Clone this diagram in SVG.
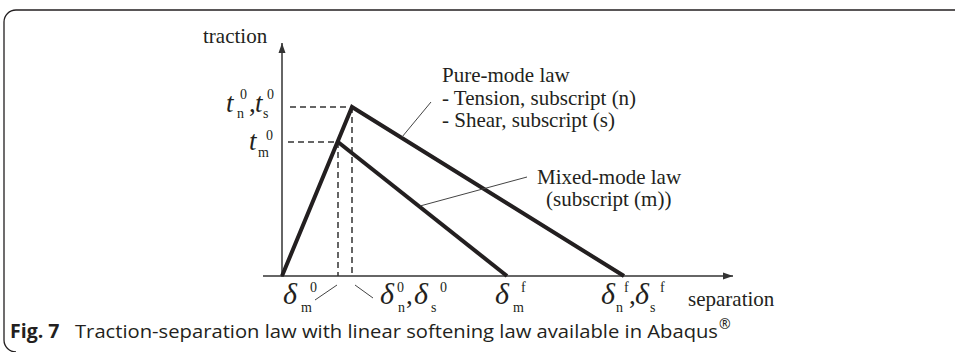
<svg xmlns="http://www.w3.org/2000/svg" width="955" height="352" viewBox="0 0 955 352">
<style>
.ser{font-family:"Liberation Serif","Times New Roman",serif;fill:#231f20}
.lbl{font-size:21px}
.it{font-style:italic}
.big{font-size:27px}
.dl{font-size:30px}
.sm{font-size:14px}
.cap{font-family:"Open Sans","Noto Sans",sans-serif;font-size:18px;fill:#231f20}
.thick{stroke:#231f20;stroke-width:4;fill:none;stroke-linejoin:miter}
.axis{stroke:#333;stroke-width:1.5;fill:none}
.dash{stroke:#333;stroke-width:1.5;fill:none;stroke-dasharray:6 4}
.lead{stroke:#444;stroke-width:1;fill:none}
</style>
<defs>
<marker id="arr" viewBox="0 0 10 10" refX="10" refY="5" markerWidth="10" markerHeight="10" markerUnits="userSpaceOnUse" orient="auto">
<path d="M0,1.5 L10,5 L0,8.5 Z" fill="#333"/>
</marker>
</defs>
<path d="M955,10 H16 A12 12 0 0 0 4 22 V340 A12 12 0 0 0 16 352" fill="none" stroke="#231f20" stroke-width="1.3"/>
<g id="connectors">
<line class="axis" x1="282" y1="277" x2="282" y2="43" marker-end="url(#arr)"/>
<line class="axis" x1="263" y1="276" x2="733" y2="276" marker-end="url(#arr)"/>
<line class="dash" x1="290" y1="107" x2="352" y2="107"/>
<line class="dash" x1="288" y1="142" x2="338" y2="142"/>
<line class="dash" x1="352" y1="107" x2="352" y2="276"/>
<line class="dash" x1="338" y1="142" x2="338" y2="276"/>
<polyline class="thick" points="282,276 352,107 624,276"/>
<polyline class="thick" points="338,142 507,276"/>
<line class="lead" x1="402" y1="137" x2="431" y2="102"/>
<line class="lead" x1="420" y1="206" x2="527" y2="177"/>
<line class="lead" x1="315" y1="300" x2="337" y2="285"/>
<line class="lead" x1="355" y1="285" x2="373" y2="298"/>
</g>
<g id="axis-labels">
<text class="ser lbl" x="203" y="43">traction</text>
<text class="ser lbl" x="688" y="306">separation</text>
</g>
<g id="t-labels">
<text class="ser it big" x="226" y="112">t</text>
<text class="ser sm" x="237" y="118">n</text>
<text class="ser sm" x="240" y="99">0</text>
<text class="ser big" x="249" y="112">,</text>
<text class="ser it big" x="255" y="112">t</text>
<text class="ser sm" x="263" y="118">s</text>
<text class="ser sm" x="267" y="99">0</text>
<text class="ser it big" x="249" y="150">t</text>
<text class="ser sm" x="258" y="157">m</text>
<text class="ser sm" x="266" y="140">0</text>
</g>
<g id="pure-mode-label">
<text class="ser lbl" x="442" y="82">Pure-mode law</text>
<text class="ser lbl" x="442" y="105">- Tension, subscript (n)</text>
<text class="ser lbl" x="442" y="127">- Shear, subscript (s)</text>
</g>
<g id="mixed-mode-label">
<text class="ser lbl" x="537" y="184">Mixed-mode law</text>
<text class="ser lbl" x="546" y="206">(subscript (m))</text>
</g>
<g id="delta-labels">
<text class="ser it dl" x="283" y="304">δ</text>
<text class="ser sm" x="301" y="312">m</text>
<text class="ser sm" x="310" y="292">0</text>
<text class="ser it dl" x="380" y="304">δ</text>
<text class="ser sm" x="398" y="312">n</text>
<text class="ser sm" x="397" y="292">0</text>
<text class="ser big" x="406" y="304">,</text>
<text class="ser it dl" x="414" y="304">δ</text>
<text class="ser sm" x="431" y="312">s</text>
<text class="ser sm" x="440" y="292">0</text>
<text class="ser it dl" x="495" y="304">δ</text>
<text class="ser sm" x="513" y="312">m</text>
<text class="ser sm" x="521" y="292">f</text>
<text class="ser it dl" x="601" y="304">δ</text>
<text class="ser sm" x="616" y="312">n</text>
<text class="ser sm" x="624" y="292">f</text>
<text class="ser big" x="629" y="304">,</text>
<text class="ser it dl" x="635" y="304">δ</text>
<text class="ser sm" x="650" y="312">s</text>
<text class="ser sm" x="660" y="292">f</text>
</g>
<g id="caption">
<text class="cap" x="10" y="338" style="font-weight:bold;font-size:19.5px">Fig. 7</text>
<text class="cap" x="75" y="338" textLength="643" lengthAdjust="spacingAndGlyphs">Traction-separation law with linear softening law available in Abaqus</text>
<text class="cap" x="719" y="329" style="font-size:14px">®</text>
</g>
</svg>
